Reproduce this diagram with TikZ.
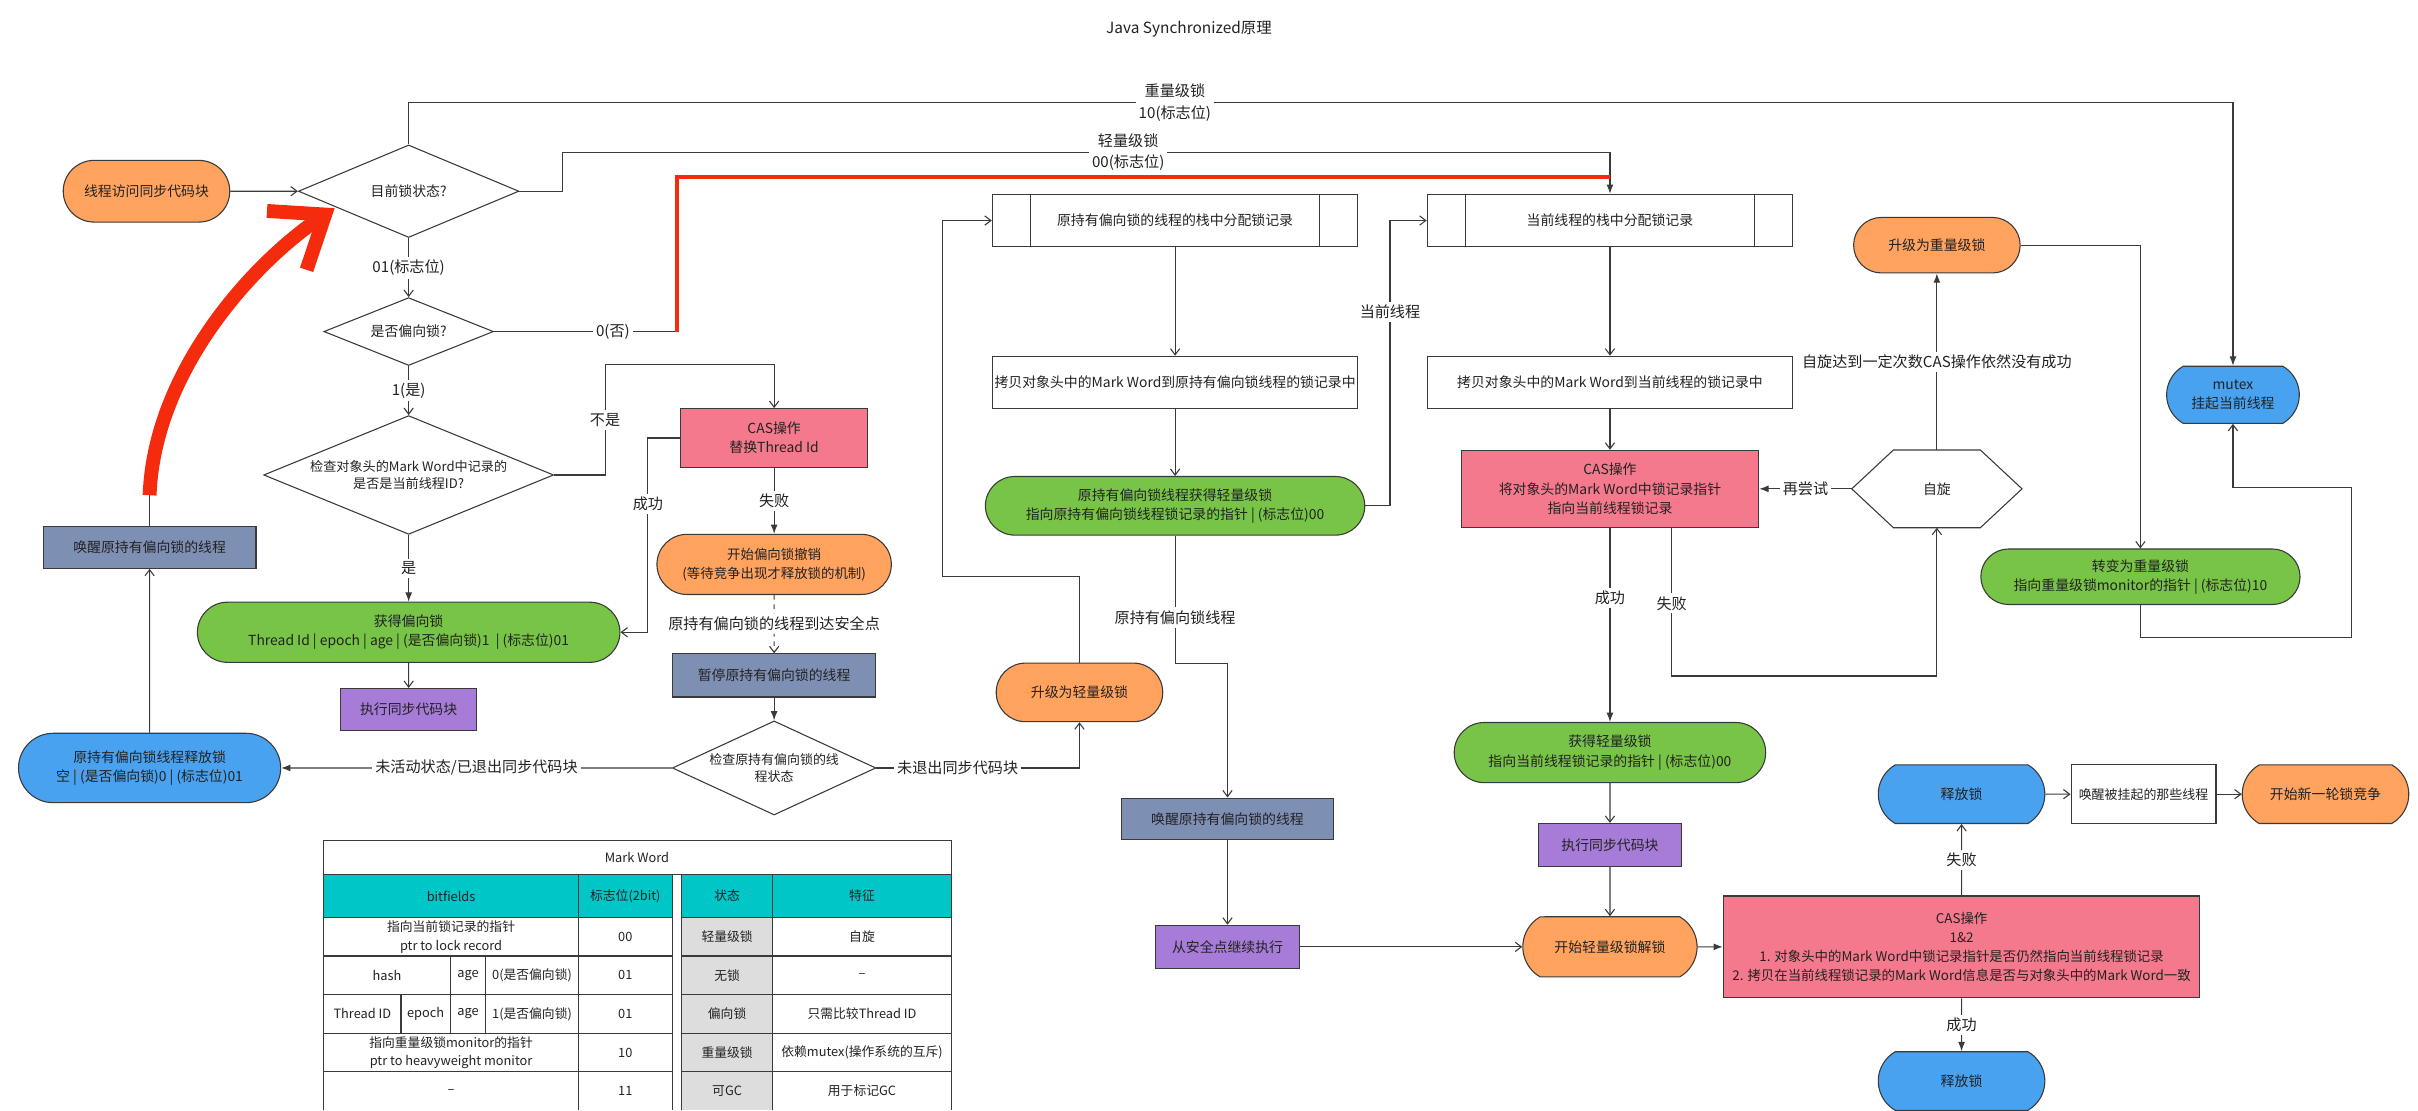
\documentclass[tikz,border=0pt]{standalone}
\usepackage{fontspec}
\setmainfont{Noto Sans CJK SC}
\usetikzlibrary{arrows.meta,shapes.geometric,shapes.misc,calc}

\definecolor{lineC}{HTML}{3A3A3A}
\definecolor{textC}{HTML}{222222}
\definecolor{orangeF}{HTML}{FFA35F}
\definecolor{greenF}{HTML}{78C446}
\definecolor{pinkF}{HTML}{F5798C}
\definecolor{slateF}{HTML}{7E8FB4}
\definecolor{purpleF}{HTML}{A77CD8}
\definecolor{blueF}{HTML}{48A2EF}
\definecolor{tealF}{HTML}{00C6C8}
\definecolor{grayF}{HTML}{DDDDDD}
\definecolor{redA}{HTML}{F42B0C}

\begin{document}
\begin{tikzpicture}[x=1pt, y=-1pt,
    box/.style={draw=lineC, line width=0.7pt, text=textC, align=center, inner sep=1pt,
      font=\fontsize{9}{12.5}\selectfont},
    sz/.style 2 args={minimum width=#1pt, minimum height=#2pt},
    term/.style={box, rounded rectangle},
    flatterm/.style={box, rounded rectangle, rounded rectangle arc length=120},
    choice/.style={box, diamond, inner sep=0pt},
    predef/.style={box, path picture={
      \draw[lineC, line width=0.7pt]
        ([xshift=25pt]path picture bounding box.north west) -- ([xshift=25pt]path picture bounding box.south west)
        ([xshift=-25pt]path picture bounding box.north east) -- ([xshift=-25pt]path picture bounding box.south east);}},
    lbl/.style={fill=white, text=textC, inner sep=2pt, align=center, font=\fontsize{9.8}{14}\selectfont},
    line/.style={draw=lineC, line width=0.7pt},
    arr/.style={line, -{Straight Barb[length=4pt, width=6pt]}},
    farr/.style={line, -{Latex[length=6pt, width=4.5pt]}},
    cell/.style={text=textC, align=center, inner sep=0pt, font=\fontsize{8.3}{12}\selectfont},
  ]
    \useasboundingbox (0, 0) rectangle (1568, 720);

    \node[text=textC, font=\fontsize{10}{12}\selectfont] (title) at (771, 19) {Java Synchronized原理};

    % biased lock
    \node[term, fill=orangeF, sz={110}{40}] (start) at (95, 124) {线程访问同步代码块};
    \node[choice, aspect=2.4, sz={143}{60}] (state) at (265, 124) {目前锁状态?};
    \node[choice, aspect=2.5, sz={110}{44}] (isbias) at (265, 215) {是否偏向锁?};
    \node[choice, aspect=2.44, sz={188}{77}, font=\fontsize{8.5}{11.5}\selectfont] (checkid) at (265, 308) {检查对象头的Mark Word中记录的\\是否是当前线程ID?};
    \node[box, fill=pinkF, sz={121}{38}] (casid) at (502, 284) {CAS操作\\替换Thread Id};
    \node[term, fill=orangeF, sz={154}{39}, font=\fontsize{8.7}{12.5}\selectfont] (revoke) at (502, 366) {开始偏向锁撤销\\(等待竞争出现才释放锁的机制)};
    \node[box, fill=slateF, sz={132}{28}] (pause) at (502, 438) {暂停原持有偏向锁的线程};
    \node[choice, aspect=2.16, sz={132}{61}, font=\fontsize{8.4}{11.5}\selectfont] (checkst) at (502, 498) {检查原持有偏向锁的线\\程状态};
    \node[term, fill=blueF, sz={172}{45}] (unbias) at (97, 498) {原持有偏向锁线程释放锁\\空 | (是否偏向锁)0 | (标志位)01};
    \node[box, fill=slateF, sz={138}{27}] (wakeold) at (97, 355) {唤醒原持有偏向锁的线程};
    \node[term, fill=greenF, sz={276}{39}] (gotbias) at (265, 410) {获得偏向锁\\Thread Id | epoch | age | (是否偏向锁)1 \ | (标志位)01};
    \node[box, fill=purpleF, sz={88}{27}] (runbias) at (265, 460) {执行同步代码块};

    % lightweight lock
    \node[term, fill=orangeF, sz={110}{38}] (tolight) at (700, 449) {升级为轻量级锁};
    \node[predef, sz={237}{34}] (oldrec) at (762, 143) {原持有偏向锁的线程的栈中分配锁记录};
    \node[box, sz={237}{34}] (oldcopy) at (762, 248) {拷贝对象头中的Mark Word到原持有偏向锁线程的锁记录中};
    \node[term, fill=greenF, sz={248}{38}] (oldlight) at (762, 328) {原持有偏向锁线程获得轻量级锁\\指向原持有偏向锁线程锁记录的指针 | (标志位)00};
    \node[box, fill=slateF, sz={138}{27}] (wakeold2) at (796, 531) {唤醒原持有偏向锁的线程};
    \node[box, fill=purpleF, sz={93}{28}] (resume) at (796, 614) {从安全点继续执行};
    \node[predef, sz={237}{34}] (currec) at (1044, 143) {当前线程的栈中分配锁记录};
    \node[box, sz={237}{34}] (curcopy) at (1044, 248) {拷贝对象头中的Mark Word到当前线程的锁记录中};
    \node[box, fill=pinkF, sz={193}{50}] (casrec) at (1044, 317) {CAS操作\\将对象头的Mark Word中锁记录指针\\指向当前线程锁记录};
    \node[sz={110}{50}, inner sep=0pt, text=textC, font=\fontsize{9}{12.5}\selectfont] (spin) at (1256, 317) {自旋};
    \draw[line] (spin.west) -- ([xshift=27pt]spin.north west) -- ([xshift=-27pt]spin.north east)
      -- (spin.east) -- ([xshift=-27pt]spin.south east) -- ([xshift=27pt]spin.south west) -- cycle;
    \node[term, fill=greenF, sz={204}{39}] (gotlight) at (1044, 488) {获得轻量级锁\\指向当前线程锁记录的指针 | (标志位)00};
    \node[box, fill=purpleF, sz={93}{28}] (runlight) at (1044, 548) {执行同步代码块};
    \node[flatterm, fill=orangeF, sz={115}{39}] (unlock) at (1044, 614) {开始轻量级锁解锁};
    \node[box, fill=pinkF, sz={309}{66}, font=\fontsize{8.7}{12.3}\selectfont] (casfree) at (1272, 614) {CAS操作\\1\&2\\1. 对象头中的Mark Word中锁记录指针是否仍然指向当前线程锁记录\\2. 拷贝在当前线程锁记录的Mark Word信息是否与对象头中的Mark Word一致};
    \node[flatterm, fill=blueF, sz={110}{38}] (free1) at (1272, 515) {释放锁};
    \node[box, sz={94}{38}, font=\fontsize{8.4}{12}\selectfont] (wakeall) at (1390, 515) {唤醒被挂起的那些线程};
    \node[flatterm, fill=orangeF, sz={110}{38}] (newround) at (1508, 515) {开始新一轮锁竞争};
    \node[flatterm, fill=blueF, sz={110}{38}] (free2) at (1272, 701) {释放锁};

    % heavyweight lock
    \node[term, fill=orangeF, sz={110}{36}] (toheavy) at (1256, 159) {升级为重量级锁};
    \node[term, fill=greenF, sz={209}{36}] (heavy) at (1388, 374) {转变为重量级锁\\指向重量级锁monitor的指针 | (标志位)10};
    \node[flatterm, fill=blueF, sz={88}{37}] (mutex) at (1448, 256) {mutex\\挂起当前线程};

    \coordinate (redfoot) at (439, 215);
    \coordinate (redtop) at (1044, 115);

    % connectors
    \draw[arr] (start) -- (state);
    \draw[farr] (state.north) -- ++(0, -27) -| node[lbl, pos=0.21] {重量级锁\\10(标志位)} (mutex.north);
    \draw[farr] (state.east) -- ++(28, 0) |- node[lbl, pos=0.77] {轻量级锁\\00(标志位)} ($(currec.north)+(0, -27)$) -- (currec.north);
    \draw[arr] (state) -- node[lbl] {01(标志位)} (isbias);
    \draw[line] (isbias) -- node[lbl, pos=0.65] {0(否)} (redfoot);
    \draw[arr] (isbias) -- node[lbl] {1(是)} (checkid);
    \draw[arr] (checkid.east) -- ++(33, 0) |- node[lbl, pos=0.25] {不是} ($(casid.north)+(0, -28)$) -- (casid.north);
    \draw[farr] (checkid) -- node[lbl] {是} (gotbias);
    \draw[arr] (casid.west) -- ++(-21, 0) |- node[lbl, pos=0.17] {成功} (gotbias.east);
    \draw[farr] (casid) -- node[lbl] {失败} (revoke);
    \draw[arr, dashed] (revoke) -- node[lbl] {原持有偏向锁的线程到达安全点} (pause);
    \draw[farr] (pause) -- (checkst);
    \draw[farr] (checkst) -- node[lbl] {未活动状态/已退出同步代码块} (unbias);
    \draw[arr] (unbias) -- (wakeold);
    \draw[line] (wakeold.north) -- ++(0, -20) coordinate (redstart);
    \draw[arr] (gotbias) -- (runbias);
    \draw[arr] (checkst.east) -| node[lbl, pos=0.2] {未退出同步代码块} (tolight.south);
    \draw[arr] (tolight.north) |- ++(-89, -56) |- (oldrec.west);
    \draw[arr] (oldrec) -- (oldcopy);
    \draw[arr] (oldcopy) -- (oldlight);
    \draw[arr] (oldlight.east) -- ++(16, 0) |- node[lbl, pos=0.34] {当前线程} (currec.west);
    \draw[arr] (oldlight.south) -- node[lbl, pos=0.64] {原持有偏向锁线程} ++(0, 83) -| (wakeold2.north);
    \draw[arr] (wakeold2) -- (resume);
    \draw[arr] (resume) -- (unlock);
    \draw[arr] (currec) -- (curcopy);
    \draw[arr] (curcopy) -- (casrec);
    \draw[farr] (casrec) -- node[lbl, pos=0.36] {成功} (gotlight);
    \draw[arr] ([xshift=40pt]casrec.south) -- node[lbl, pos=0.51] {失败} ++(0, 96) -| (spin.south);
    \draw[farr] (spin) -- node[lbl] {再尝试} (casrec);
    \draw[farr] (spin) -- node[lbl] {自旋达到一定次数CAS操作依然没有成功} (toheavy);
    \draw[arr] (toheavy.east) -| (heavy.north);
    \draw[arr] (heavy.south) -- ++(0, 21) -| ++(137, -97) -| (mutex.south);
    \draw[arr] (gotlight) -- (runlight);
    \draw[arr] (runlight) -- (unlock);
    \draw[farr] (unlock) -- (casfree);
    \draw[arr] (casfree) -- node[lbl] {失败} (free1);
    \draw[farr] (casfree) -- node[lbl] {成功} (free2);
    \draw[arr] (free1) -- (wakeall);
    \draw[arr] (wakeall) -- (newround);

    % red notes
    \draw[redA, line width=2.5pt] (redfoot) |- (redtop);
    \draw[redA, line width=9pt, -{Straight Barb[length=30pt, width=46pt]}]
      (redstart) .. controls (100, 240) and (165, 170) .. (217, 135);

    % Mark Word table
    \fill[tealF] (210, 567) rectangle (436, 595) (442, 567) rectangle (617, 595);
    \fill[grayF] (442, 595) rectangle (501, 720);
    \draw[lineC, line width=0.8pt]
      (210, 720) -- (210, 545) -- (617, 545) -- (617, 720)
      (210, 567) -- (617, 567)
      (375, 567) -- (375, 720) (436, 567) -- (436, 720)
      (442, 567) -- (442, 720) (501, 567) -- (501, 720)
      (292, 620) -- (292, 670) (315, 620) -- (315, 670) (260, 645) -- (260, 670);
    \foreach \y in {595, 620, 645, 670, 695}
      \draw[lineC, line width=0.8pt] (210, \y) -- (436, \y) (442, \y) -- (617, \y);

    \node[cell] (mw) at (413, 556) {Mark Word};
    \node[cell] (hbits) at (292.5, 581) {bitfields};
    \node[cell] (hflag) at (405.5, 581) {标志位(2bit)};
    \node[cell] (hstate) at (471.5, 581) {状态};
    \node[cell] (hfeat) at (559, 581) {特征};
    \node[cell] (b1) at (292.5, 607.5) {指向当前锁记录的指针\\ptr to lock record};
    \node[cell] (b2a) at (251, 632.5) {hash};
    \node[cell] (b2b) at (303.5, 632.5) {age};
    \node[cell] (b2c) at (345, 632.5) {0(是否偏向锁)};
    \node[cell] (b3a) at (235, 657.5) {Thread ID};
    \node[cell] (b3b) at (276, 657.5) {epoch};
    \node[cell] (b3c) at (303.5, 657.5) {age};
    \node[cell] (b3d) at (345, 657.5) {1(是否偏向锁)};
    \node[cell] (b4) at (292.5, 682.5) {指向重量级锁monitor的指针\\ptr to heavyweight monitor};
    \node[cell] (b5) at (292.5, 707.5) {–};
    \foreach \fl/\st/\ft [count=\i] in {00/轻量级锁/自旋, 01/无锁/–, 01/偏向锁/只需比较Thread ID,
        10/重量级锁/依赖mutex(操作系统的互斥), 11/可GC/用于标记GC}
      \node[cell] (fl\i) at (405.5, {582.5+25*\i}) {\fl}
        node[cell] (st\i) at (471.5, {582.5+25*\i}) {\st}
        node[cell] (ft\i) at (559, {582.5+25*\i}) {\ft};
\end{tikzpicture}
\end{document}
